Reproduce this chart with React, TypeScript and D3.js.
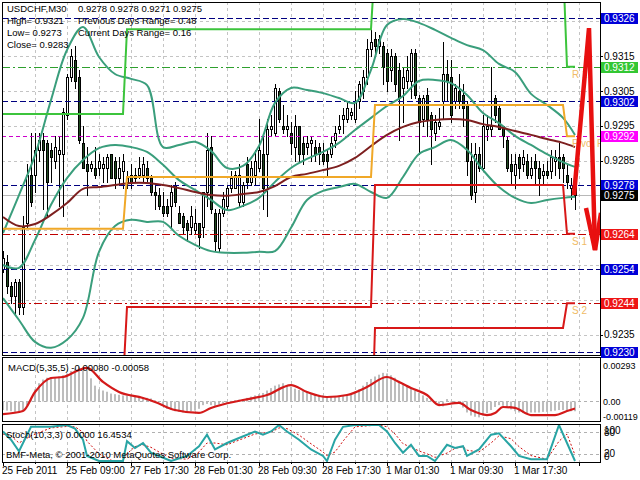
import React from "react";
import * as d3 from "d3";

// ---------- DATA ----------
const candleOpen = [
  0.9254,0.9256,0.9249,0.9246,0.9250,0.9243,0.9267,0.9281,0.9281,0.9288,
  0.9291,0.9290,0.9288,0.9285,0.9287,0.9287,0.9298,0.9309,0.9314,0.9309,
  0.9290,0.9284,0.9283,0.9283,0.9283,0.9283,0.9283,0.9287,0.9285,0.9280,
  0.9282,0.9279,0.9281,0.9280,0.9281,0.9281,0.9283,0.9280,0.9276,0.9275,
  0.9272,0.9272,0.9272,0.9278,0.9270,0.9269,0.9267,0.9266,0.9265,0.9267,
  0.9266,0.9276,0.9289,0.9270,0.9260,0.9270,0.9272,0.9277,0.9277,0.9273,
  0.9273,0.9284,0.9279,0.9281,0.9283,0.9287,0.9287,0.9294,0.9293,0.9305,
  0.9295,0.9294,0.9293,0.9289,0.9295,0.9290,0.9289,0.9290,0.9289,0.9289,
  0.9287,0.9287,0.9287,0.9291,0.9294,0.9297,0.9297,0.9298,0.9297,0.9302,
  0.9305,0.9309,0.9317,0.9320,0.9318,0.9318,0.9316,0.9311,0.9315,0.9311,
  0.9306,0.9308,0.9308,0.9316,0.9303,0.9297,0.9304,0.9298,0.9293,0.9295,
  0.9302,0.9310,0.9309,0.9302,0.9305,0.9304,0.9301,0.9285,0.9276,0.9287,
  0.9283,0.9294,0.9294,0.9303,0.9300,0.9295,0.9291,0.9284,0.9281,0.9286,
  0.9284,0.9285,0.9281,0.9285,0.9283,0.9281,0.9282,0.9282,0.9285,0.9286,
  0.9286,0.9281,0.9277,0.9278,
];
const candleHigh = [
  0.9259,0.9258,0.9250,0.9251,0.9251,0.9269,0.9284,0.9293,0.9293,0.9293,
  0.9293,0.9291,0.9290,0.9292,0.9292,0.9300,0.9310,0.9317,0.9318,0.9311,
  0.9295,0.9289,0.9285,0.9289,0.9287,0.9286,0.9287,0.9287,0.9286,0.9286,
  0.9287,0.9282,0.9284,0.9283,0.9286,0.9286,0.9285,0.9281,0.9278,0.9277,
  0.9276,0.9274,0.9278,0.9279,0.9272,0.9270,0.9268,0.9272,0.9271,0.9267,
  0.9276,0.9293,0.9292,0.9271,0.9271,0.9276,0.9278,0.9282,0.9282,0.9284,
  0.9279,0.9286,0.9285,0.9288,0.9297,0.9292,0.9297,0.9298,0.9307,0.9306,
  0.9301,0.9298,0.9296,0.9298,0.9295,0.9292,0.9292,0.9292,0.9291,0.9290,
  0.9290,0.9288,0.9292,0.9295,0.9298,0.9300,0.9302,0.9300,0.9305,0.9308,
  0.9311,0.9320,0.9323,0.9322,0.9321,0.9319,0.9317,0.9317,0.9316,0.9313,
  0.9312,0.9315,0.9317,0.9317,0.9304,0.9304,0.9306,0.9299,0.9298,0.9300,
  0.9319,0.9314,0.9314,0.9307,0.9310,0.9307,0.9302,0.9290,0.9290,0.9289,
  0.9298,0.9298,0.9312,0.9304,0.9301,0.9295,0.9292,0.9287,0.9287,0.9287,
  0.9288,0.9287,0.9286,0.9287,0.9285,0.9284,0.9285,0.9288,0.9288,0.9290,
  0.9287,0.9284,0.9280,0.9278,
];
const candleLow = [
  0.9253,0.9247,0.9244,0.9241,0.9241,0.9241,0.9266,0.9272,0.9276,0.9285,
  0.9271,0.9269,0.9279,0.9283,0.9272,0.9269,0.9297,0.9308,0.9306,0.9290,
  0.9283,0.9275,0.9282,0.9280,0.9281,0.9279,0.9279,0.9280,0.9277,0.9278,
  0.9277,0.9277,0.9277,0.9279,0.9280,0.9279,0.9279,0.9275,0.9271,0.9271,
  0.9269,0.9269,0.9266,0.9272,0.9267,0.9264,0.9262,0.9264,0.9264,0.9260,
  0.9263,0.9272,0.9270,0.9259,0.9259,0.9269,0.9271,0.9276,0.9277,0.9272,
  0.9272,0.9277,0.9278,0.9278,0.9282,0.9271,0.9269,0.9292,0.9292,0.9296,
  0.9293,0.9292,0.9287,0.9285,0.9285,0.9284,0.9287,0.9285,0.9285,0.9284,
  0.9284,0.9281,0.9286,0.9289,0.9293,0.9293,0.9296,0.9297,0.9296,0.9300,
  0.9303,0.9307,0.9315,0.9316,0.9316,0.9307,0.9305,0.9308,0.9305,0.9291,
  0.9296,0.9306,0.9303,0.9303,0.9287,0.9295,0.9292,0.9284,0.9291,0.9294,
  0.9297,0.9302,0.9296,0.9300,0.9300,0.9295,0.9281,0.9274,0.9273,0.9282,
  0.9282,0.9291,0.9292,0.9296,0.9294,0.9289,0.9282,0.9278,0.9277,0.9280,
  0.9282,0.9280,0.9280,0.9278,0.9275,0.9278,0.9280,0.9280,0.9281,0.9280,
  0.9279,0.9277,0.9274,0.9271,
];
const candleClose = [
  0.9257,0.9249,0.9246,0.9250,0.9243,0.9266,0.9281,0.9273,0.9288,0.9291,
  0.9288,0.9279,0.9286,0.9289,0.9288,0.9299,0.9309,0.9315,0.9308,0.9291,
  0.9283,0.9282,0.9284,0.9281,0.9285,0.9284,0.9286,0.9280,0.9280,0.9283,
  0.9285,0.9280,0.9279,0.9281,0.9283,0.9284,0.9280,0.9276,0.9275,0.9272,
  0.9270,0.9270,0.9276,0.9273,0.9267,0.9266,0.9265,0.9269,0.9267,0.9263,
  0.9276,0.9288,0.9271,0.9262,0.9270,0.9274,0.9277,0.9280,0.9281,0.9281,
  0.9278,0.9279,0.9283,0.9285,0.9288,0.9277,0.9294,0.9295,0.9306,0.9297,
  0.9294,0.9295,0.9290,0.9295,0.9287,0.9287,0.9290,0.9291,0.9287,0.9287,
  0.9285,0.9285,0.9290,0.9293,0.9295,0.9298,0.9300,0.9299,0.9302,0.9307,
  0.9309,0.9317,0.9319,0.9318,0.9320,0.9312,0.9308,0.9315,0.9307,0.9303,
  0.9309,0.9311,0.9316,0.9304,0.9296,0.9303,0.9297,0.9294,0.9296,0.9296,
  0.9310,0.9308,0.9298,0.9306,0.9302,0.9300,0.9285,0.9275,0.9287,0.9283,
  0.9295,0.9295,0.9295,0.9298,0.9294,0.9292,0.9283,0.9282,0.9284,0.9283,
  0.9286,0.9281,0.9283,0.9283,0.9280,0.9282,0.9281,0.9286,0.9286,0.9283,
  0.9283,0.9279,0.9278,0.9275,
];

const timeLabels = ["25 Feb 2011","25 Feb 09:00","27 Feb 17:30","28 Feb 01:30","28 Feb 09:30","28 Feb 17:30","1 Mar 01:30","1 Mar 09:30","1 Mar 17:30"];
const timeLabelBars = [0,16,32,48,64,80,96,112,128];

// Bollinger bands + moving average, read at these bars
const bandBars = [0,4,8,12,16,20,24,28,32,36,40,44,48,52,56,60,64,68,72,76,80,84,88,92,96,100,104,108,112,116,120,124,128,132,136,140,143];
const bbUpper = [0.92642,0.92751,0.92866,0.93024,0.93168,0.93234,0.93148,0.93099,0.93085,0.93067,0.92889,0.92895,0.92904,0.92878,0.92829,0.92835,0.92892,0.93016,0.93059,0.93053,0.93044,0.93030,0.93016,0.93111,0.93240,0.93257,0.93246,0.93226,0.93203,0.93182,0.93168,0.93128,0.93105,0.93042,0.93010,0.92973,0.92924];
const bbMiddle = [0.92550,0.92542,0.92622,0.92723,0.92800,0.92852,0.92886,0.92895,0.92889,0.92875,0.92838,0.92794,0.92766,0.92737,0.92708,0.92720,0.92743,0.92789,0.92829,0.92855,0.92875,0.92901,0.92938,0.92973,0.93007,0.93036,0.93079,0.93082,0.93073,0.93039,0.92987,0.92958,0.92921,0.92895,0.92869,0.92846,0.92832];
const bbLower = [0.92455,0.92392,0.92329,0.92312,0.92335,0.92398,0.92588,0.92662,0.92680,0.92674,0.92674,0.92634,0.92608,0.92590,0.92585,0.92585,0.92588,0.92590,0.92657,0.92737,0.92763,0.92774,0.92783,0.92760,0.92743,0.92803,0.92869,0.92889,0.92909,0.92881,0.92823,0.92774,0.92743,0.92728,0.92737,0.92743,0.92746];
const maValues = [0.92688,0.92662,0.92668,0.92694,0.92728,0.92769,0.92774,0.92780,0.92786,0.92786,0.92780,0.92771,0.92760,0.92751,0.92749,0.92754,0.92760,0.92777,0.92803,0.92812,0.92823,0.92835,0.92858,0.92892,0.92924,0.92947,0.92961,0.92967,0.92970,0.92967,0.92955,0.92947,0.92935,0.92924,0.92912,0.92901,0.92889];

// Daily pivot levels
const pivotDayStart = [0, 31, 93, 141];
const pivotR1 = [0.92984, 0.93228, 0.93421, 0.9312];
const pivotPP = [0.92654, 0.92803, 0.93010, 0.9292];
const pivotS1 = [0.9221, 0.92429, 0.92780, 0.9264];
const pivotS2 = [0.9188, 0.9200, 0.92369, 0.9244];
const pivotNames = ["R 1", "Pivot Point", "S 1", "S 2"];

// Horizontal line objects
const levelPrices = [0.9326, 0.9312, 0.9302, 0.9292, 0.9278, 0.9264, 0.9254, 0.9244, 0.9230];
const levelLineColors = ["#000080","#2ea02e","#000080","#cc00cc","#000080","#c00000","#000080","#c00000","#000080"];
const levelBoxColors = ["#0000d8","#33c733","#0000d8","#ff00ff","#0000d8","#ee1515","#0000d8","#ee1515","#0000d8"];
const levelDashes = ["6,3","8,3,2,3","6,3","4,3","6,3","8,3,2,3","6,3","8,3,2,3","6,3"];
const bidPrice = 0.9275;
const priceTicks = [0.9235,0.9245,0.9255,0.9265,0.9275,0.9285,0.9295,0.9305,0.9315,0.9325];

// Hand-drawn arrow (bar position, price)
const arrowBars = [142.75, 146.5, 148];
const arrowPrices = [0.92751, 0.93231, 0.92593];
const arrowHeadBars = [145.75, 148, 149.5];
const arrowHeadPrices = [0.92714, 0.92593, 0.92700];

// MACD(5,35,5)
const macdHist = [
  -0.00070,-0.00075,-0.00080,-0.00085,-0.00080,-0.00070,-0.00030,0.00030,0.00100,0.00150,
  0.00180,0.00195,0.00200,0.00200,0.00205,0.00215,0.00230,0.00250,0.00270,0.00285,
  0.00280,0.00255,0.00190,0.00130,0.00100,0.00090,0.00080,0.00065,0.00060,0.00055,
  0.00050,0.00050,0.00045,0.00045,0.00040,0.00035,0.00030,0.00025,0.00010,0.00000,
  -0.00030,-0.00060,-0.00070,-0.00080,-0.00085,-0.00090,-0.00085,-0.00080,-0.00075,-0.00060,
  -0.00030,-0.00020,-0.00030,-0.00035,-0.00025,-0.00015,-0.00010,0.00005,0.00010,0.00015,
  0.00020,0.00030,0.00040,0.00050,0.00060,0.00070,0.00090,0.00110,0.00130,0.00140,
  0.00150,0.00135,0.00120,0.00105,0.00095,0.00085,0.00075,0.00065,0.00060,0.00055,
  0.00050,0.00045,0.00040,0.00040,0.00040,0.00045,0.00050,0.00065,0.00080,0.00100,
  0.00130,0.00160,0.00185,0.00205,0.00220,0.00235,0.00230,0.00215,0.00195,0.00170,
  0.00150,0.00130,0.00110,0.00090,0.00070,0.00050,0.00030,0.00015,-0.00010,-0.00030,
  -0.00040,0.00020,0.00000,-0.00010,-0.00015,-0.00050,-0.00090,-0.00115,-0.00125,-0.00130,
  -0.00115,-0.00095,-0.00070,-0.00045,-0.00030,-0.00035,-0.00050,-0.00065,-0.00080,-0.00090,
  -0.00095,-0.00095,-0.00090,-0.00090,-0.00090,-0.00085,-0.00085,-0.00080,-0.00075,-0.00070,
  -0.00070,-0.00075,-0.00080,-0.00080,
];
const macdSigBars = [0,5,8,12,15,19,21,25,29,35,38,43,49,52,60,66,72,76,81,86,91,96,99,102,106,109,114,117,121,123,125,128,132,138,141,143];
const macdSignal = [-0.00103,-0.00078,0.00078,0.00193,0.00201,0.00258,0.00275,0.00160,0.00078,0.00029,-0.00004,-0.00070,-0.00094,-0.00053,0.00012,0.00053,0.00135,0.00078,0.00037,0.00053,0.00119,0.00201,0.00160,0.00111,0.00053,-0.00029,-0.00012,-0.00070,-0.00111,-0.00094,-0.00045,-0.00053,-0.00111,-0.00111,-0.00078,-0.00058];
const macdTicks = [0.00293, 0, -0.00119];

// Stochastic(10,3,3)
const stochBars = [0,2,4,7,12,16,18,20,21,24,30,31,33,35,37,39,42,46,49,51,53,56,59,63,65,67,69,71,74,77,80,81,83,85,88,94,96,98,100,102,104,106,108,111,113,115,116,119,122,124,127,129,132,136,139,141,143];
const stochMain = [82,59,27,95,95,100,90,59,14,0,0,55,36,50,23,14,0,14,41,73,32,50,64,82,73,82,100,82,59,32,14,0,59,95,100,100,82,50,23,45,14,14,0,45,36,41,14,32,73,77,41,14,5,5,100,50,0];
const stochSigBars = [0,2,4,7,12,16,18,20,21,24,27,30,31,33,35,37,39,42,46,49,51,53,56,59,63,65,67,69,71,74,77,80,81,83,85,88,94,96,98,100,102,104,106,108,111,113,115,116,119,122,124,127,129,132,136,139,141,143];
const stochSignal = [75,70,50,70,92,96,95,80,55,20,2,0,20,40,45,38,25,8,5,25,50,50,45,58,75,78,80,92,90,72,48,25,15,25,55,95,100,95,75,48,38,28,20,10,22,35,40,30,25,50,70,62,40,15,5,55,75,16.4534];
const stochTicks = [100, 80, 20, 0];

// ---------- CHART ----------
const FONT = "'Liberation Sans', Arial, sans-serif";
const X0 = 2, X1 = 600;
const MAIN_T = 2, MAIN_B = 355;
const MACD_T = 357, MACD_B = 421;
const STO_T = 424, STO_B = 462;

export default function App() {
  const nBars = candleOpen.length;
  const bars = d3.range(nBars);
  const x = d3.scaleLinear().domain([0, 143]).range([3, 575]);
  const y = d3.scaleLinear().domain([0.9230, 0.9326]).range([352, 18]);
  const yM = d3.scaleLinear().domain([-0.0016, 0.00365]).range([421, 357]);
  const yS = d3.scaleLinear().domain([0, 100]).range([461, 425]);
  const crisp = (v: number) => Math.round(v) + 0.5;
  const gridBars = d3.range(8, 145, 8);

  const dayOf = (i: number) => {
    let d = 0;
    pivotDayStart.forEach((s, k) => { if (i >= s) d = k; });
    return d;
  };
  const pivotPath = (lv: number[]) =>
    d3.line<number>().x((i) => x(i)).y((i) => y(lv[dayOf(i)]))(bars) || "";
  const bandPath = (vals: number[]) =>
    d3.line<number>().x((_, k) => x(bandBars[k])).y((v) => y(v)).curve(d3.curveCatmullRom)(vals) || "";
  const sigPath = d3.line<number>().x((_, k) => x(macdSigBars[k])).y((v) => yM(v)).curve(d3.curveMonotoneX)(macdSignal) || "";
  const stMainPath = d3.line<number>().x((_, k) => x(stochBars[k])).y((v) => yS(v))(stochMain) || "";
  const stSigPath = d3.line<number>().x((_, k) => x(stochSigBars[k])).y((v) => yS(v))(stochSignal) || "";
  const arrowPath = d3.line<number>().x((b) => x(b)).y((_, k) => y(arrowPrices[k]))(arrowBars) || "";
  const arrowHeadPath = d3.line<number>().x((b) => x(b)).y((_, k) => y(arrowHeadPrices[k]))(arrowHeadBars) || "";

  const last = nBars - 1;
  const lastDay = pivotDayStart.length - 1;
  const pivotLast = [pivotR1[lastDay], pivotPP[lastDay], pivotS1[lastDay], pivotS2[lastDay]];
  const fmt4 = (v: number) => v.toFixed(4);
  const boxYs = [...levelPrices, bidPrice].map((p) => y(p));
  const visibleTicks = priceTicks.filter((p) => boxYs.every((by) => Math.abs(by - y(p)) > 8));

  const vGrid = (top: number, bot: number) =>
    gridBars.map((b) => (
      <line key={"vg" + top + b} x1={crisp(x(b))} x2={crisp(x(b))} y1={top} y2={bot}
        stroke="#c4c4c4" strokeDasharray="3,3" />
    ));

  return (
    <svg width={640} height={480} style={{ position: "absolute", left: 0, top: 0, background: "#fff" }}
      fontFamily={FONT}>
      <defs>
        <clipPath id="cMain"><rect x={X0} y={MAIN_T} width={X1 - X0} height={MAIN_B - MAIN_T} /></clipPath>
        <clipPath id="cMacd"><rect x={X0} y={MACD_T} width={X1 - X0} height={MACD_B - MACD_T} /></clipPath>
        <clipPath id="cSto"><rect x={X0} y={STO_T} width={X1 - X0} height={STO_B - STO_T} /></clipPath>
      </defs>
      <rect x={0} y={0} width={640} height={480} fill="#fff" />

      {/* ===== MAIN PANEL ===== */}
      <g clipPath="url(#cMain)">
        {vGrid(MAIN_T, MAIN_B)}
        {priceTicks.map((p) => (
          <line key={"hg" + p} x1={X0} x2={X1} y1={crisp(y(p))} y2={crisp(y(p))} stroke="#c4c4c4" strokeDasharray="3,3" />
        ))}
        <line x1={X0} x2={X1} y1={crisp(y(bidPrice))} y2={crisp(y(bidPrice))} stroke="#b8b8b8" />

        {/* candles */}
        {bars.map((i) => {
          const o = candleOpen[i], c = candleClose[i];
          const hi = Math.max(candleHigh[i], o, c), lo = Math.min(candleLow[i], o, c);
          const cx = Math.round(x(i));
          const top = Math.round(y(Math.max(o, c)));
          const bot = Math.round(y(Math.min(o, c)));
          const bull = c >= o;
          return (
            <g key={"c" + i}>
              <line x1={cx + 0.5} x2={cx + 0.5} y1={Math.round(y(hi))} y2={Math.round(y(lo)) + 1} stroke="#000" />
              <rect x={cx - 0.5} y={top + 0.5} width={2} height={Math.max(bot - top, 1)}
                fill={bull ? "#fff" : "#1f4a1f"} stroke="#000" />
            </g>
          );
        })}

        {/* level objects */}
        {levelPrices.map((p, k) => (
          <line key={"lv" + k} x1={X0} x2={X1} y1={crisp(y(p))} y2={crisp(y(p))}
            stroke={levelLineColors[k]} strokeDasharray={levelDashes[k]} />
        ))}

        {/* bollinger & MA */}
        <path d={bandPath(bbUpper)} fill="none" stroke="#3a9e7c" strokeWidth={2} />
        <path d={bandPath(bbMiddle)} fill="none" stroke="#3a9e7c" strokeWidth={2} />
        <path d={bandPath(bbLower)} fill="none" stroke="#3a9e7c" strokeWidth={2} />
        <path d={bandPath(maValues)} fill="none" stroke="#7d1f1f" strokeWidth={2} />

        {/* pivots */}
        <path d={pivotPath(pivotR1)} fill="none" stroke="#3cc43c" strokeWidth={2} />
        <path d={pivotPath(pivotPP)} fill="none" stroke="#f0a828" strokeWidth={2} />
        <path d={pivotPath(pivotS1)} fill="none" stroke="#d81818" strokeWidth={2} />
        <path d={pivotPath(pivotS2)} fill="none" stroke="#d81818" strokeWidth={2} />
        {pivotNames.map((nm, k) => (
          <text key={"pn" + k} x={x(last) - 3} y={y(pivotLast[k]) + 11} fontSize={10} fill="#f0bb66">{nm}</text>
        ))}

        {/* arrow */}
        <path d={arrowPath} fill="none" stroke="#e81010" strokeWidth={4.5} strokeLinejoin="miter" />
        <path d={arrowHeadPath} fill="none" stroke="#e81010" strokeWidth={4.5} strokeLinejoin="miter" />
      </g>

      {/* comments */}
      <g fontSize={9.5} fill="#000">
        <text x={7} y={12}>USDCHF,M30</text>
        <text x={78} y={12}>{[candleOpen[last], candleHigh[last], candleLow[last], candleClose[last]].map(fmt4).join(" ")}</text>
        <text x={7} y={24}>High= 0.9321</text>
        <text x={78} y={24}>Previous Days Range= 0.48</text>
        <text x={7} y={36}>Low= 0.9273</text>
        <text x={78} y={36}>Current Days Range= 0.16</text>
        <text x={7} y={48}>Close= 0.9283</text>
      </g>

      {/* right axis for main */}
      <g fontSize={10} fill="#000">
        {priceTicks.map((p) => (
          <line key={"ptl" + p} x1={X1} x2={X1 + 3} y1={crisp(y(p))} y2={crisp(y(p))} stroke="#000" />
        ))}
        {visibleTicks.map((p) => (
          <text key={"pt" + p} x={604} y={y(p) + 3.5}>{fmt4(p)}</text>
        ))}
      </g>
      {levelPrices.map((p, k) => (
        <g key={"lb" + k}>
          <rect x={601} y={Math.round(y(p)) - 5} width={37} height={11} fill={levelBoxColors[k]} />
          <text x={604} y={y(p) + 4} fontSize={10} fill="#fff">{fmt4(p)}</text>
        </g>
      ))}
      <rect x={601} y={Math.round(y(bidPrice)) - 5} width={37} height={11} fill="#000" />
      <text x={604} y={y(bidPrice) + 4} fontSize={10} fill="#fff">{fmt4(bidPrice)}</text>

      {/* ===== MACD PANEL ===== */}
      <g clipPath="url(#cMacd)">
        {vGrid(MACD_T, MACD_B)}
        <line x1={X0} x2={X1} y1={crisp(yM(0))} y2={crisp(yM(0))} stroke="#b0b0b0" strokeDasharray="3,3" />
        {macdHist.map((v, i) => {
          const cx = Math.round(x(i));
          const y0 = yM(0), y1 = yM(v);
          return <rect key={"mh" + i} x={cx - 1} y={Math.min(y0, y1)} width={2} height={Math.max(Math.abs(y1 - y0), 0.5)} fill="#bdbdbd" />;
        })}
        <path d={sigPath} fill="none" stroke="#d41a1a" strokeWidth={2.2} />
      </g>
      <text x={8} y={371} fontSize={9.5} fill="#000">
        {`MACD(5,35,5) ${macdHist[last].toFixed(5)} ${macdSignal[macdSignal.length - 1].toFixed(5)}`}
      </text>
      {macdTicks.map((t) => (
        <text key={"mt" + t} x={603} y={yM(t) + 3.5} fontSize={9} fill="#000">{t === 0 ? "0.00" : t.toFixed(5)}</text>
      ))}

      {/* ===== STOCH PANEL ===== */}
      <g clipPath="url(#cSto)">
        {vGrid(STO_T, STO_B)}
        {[80, 20].map((lv) => (
          <line key={"sl" + lv} x1={X0} x2={X1} y1={crisp(yS(lv))} y2={crisp(yS(lv))} stroke="#b0b0b0" strokeDasharray="3,3" />
        ))}
        <path d={stSigPath} fill="none" stroke="#d01010" strokeWidth={1} strokeDasharray="2,2" />
        <path d={stMainPath} fill="none" stroke="#28a4a4" strokeWidth={2} />
      </g>
      <text x={6} y={438} fontSize={9.5} fill="#000">
        {`Stoch(10,3,3) ${stochMain[stochMain.length - 1].toFixed(4)} ${stochSignal[stochSignal.length - 1].toFixed(4)}`}
      </text>
      <text x={6} y={458} fontSize={9.5} fill="#000">BMF-Meta, © 2001-2010 MetaQuotes Software Corp.</text>
      {stochTicks.map((t) => (
        <text key={"st" + t} x={604} y={Math.min(Math.max(yS(t), STO_T + 6), STO_B - 6) + 3.5} fontSize={10} fill="#000">{t}</text>
      ))}

      {/* panel borders */}
      <rect x={X0 + 0.5} y={MAIN_T + 0.5} width={X1 - X0} height={MAIN_B - MAIN_T} fill="none" stroke="#000" />
      <rect x={X0 + 0.5} y={MACD_T + 0.5} width={X1 - X0} height={MACD_B - MACD_T} fill="none" stroke="#000" />
      <rect x={X0 + 0.5} y={STO_T + 0.5} width={X1 - X0} height={STO_B - STO_T} fill="none" stroke="#000" />

      {/* x axis */}
      {d3.range(0, 145, 8).map((b) => (
        <line key={"xt" + b} x1={crisp(x(b))} x2={crisp(x(b))} y1={STO_B} y2={STO_B + (b % 16 === 0 ? 4 : 2)} stroke="#000" />
      ))}
      {timeLabels.map((t, k) => (
        <text key={"xl" + k} x={x(timeLabelBars[k]) - 1} y={474} fontSize={10} fill="#000">{t}</text>
      ))}
    </svg>
  );
}
